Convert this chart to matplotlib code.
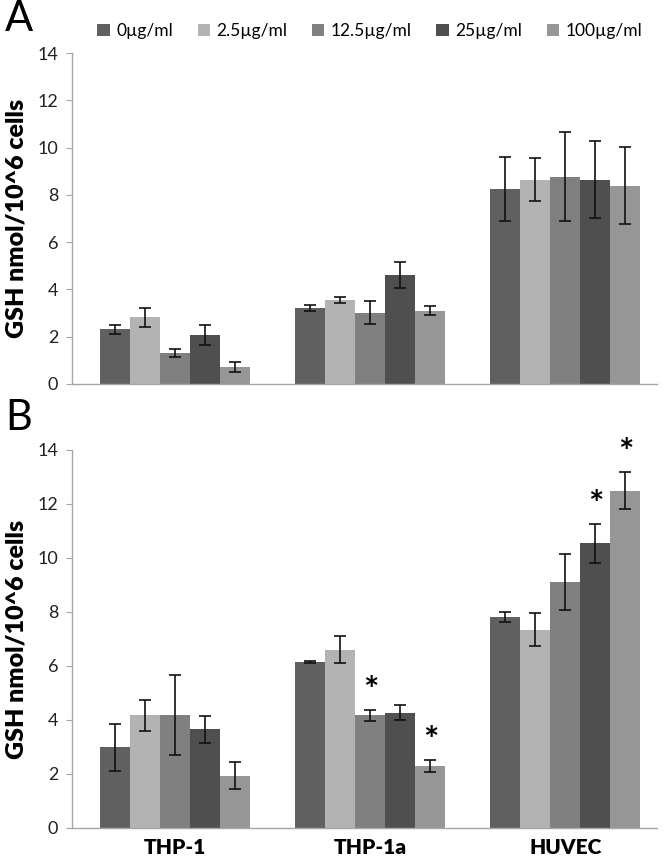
import matplotlib
matplotlib.use("Agg")
import matplotlib.pyplot as plt
import numpy as np

plt.rcParams['font.family'] = ['Lato', 'DejaVu Sans']

cells = ['THP-1', 'THP-1a', 'HUVEC']
doses = ['0µg/ml', '2.5µg/ml', '12.5µg/ml', '25µg/ml', '100µg/ml']
colors = ['#606060', '#b3b3b3', '#808080', '#4f4f4f', '#969696']

# panel A: rows = dose, cols = cell type
a_mean = [[2.31, 3.22, 8.25],
          [2.82, 3.55, 8.64],
          [1.33, 3.02, 8.77],
          [2.07, 4.61, 8.64],
          [0.72, 3.10, 8.38]]
a_err = [[0.18, 0.14, 1.37],
         [0.40, 0.14, 0.92],
         [0.17, 0.48, 1.87],
         [0.42, 0.53, 1.62],
         [0.23, 0.19, 1.63]]

# panel B
b_mean = [[2.99, 6.15, 7.81],
          [4.17, 6.61, 7.35],
          [4.17, 4.17, 9.11],
          [3.65, 4.27, 10.54],
          [1.94, 2.29, 12.49]]
b_err = [[0.87, 0.05, 0.19],
         [0.56, 0.50, 0.62],
         [1.48, 0.19, 1.05],
         [0.50, 0.28, 0.71],
         [0.49, 0.23, 0.68]]
# significant (dose index, cell index)
b_stars = [(2, 1), (4, 1), (3, 2), (4, 2)]

W, H = 664, 861
fig = plt.figure(figsize=(W / 100, H / 100), dpi=100)

left = 72 / W
width = 585 / W
axA = fig.add_axes([left, 1 - 384 / H, width, 331 / H])
axB = fig.add_axes([left, 1 - 828 / H, width, 378 / H])

bw = 0.154
x = np.arange(len(cells))


def draw(ax, mean, err):
    handles = []
    for i in range(len(doses)):
        pos = x + (i - 2) * bw
        h = ax.bar(pos, mean[i], bw, color=colors[i], label=doses[i],
                   edgecolor='none', zorder=2)
        ax.errorbar(pos, mean[i], yerr=err[i], fmt='none', ecolor='#111111',
                    elinewidth=1.2, capsize=4, capthick=1.2, zorder=3)
        handles.append(h)
    ax.set_xlim(-0.53, 2.47)
    ax.set_ylim(0, 14)
    ax.set_yticks(range(0, 15, 2))
    for s in ['top', 'right']:
        ax.spines[s].set_visible(False)
    for s in ['left', 'bottom']:
        ax.spines[s].set_color('#a6a6a6')
        ax.spines[s].set_linewidth(1.0)
    ax.tick_params(axis='y', length=4, color='#a6a6a6', labelsize=13,
                   labelcolor='#222222', pad=6)
    ax.tick_params(axis='x', length=0)
    ax.set_ylabel('GSH nmol/10^6 cells', fontsize=18, fontweight='heavy',
                  labelpad=7)
    return handles


handles = draw(axA, a_mean, a_err)
axA.set_xticks([])

draw(axB, b_mean, b_err)
axB.set_xticks(x)
axB.set_xticklabels(cells, fontsize=15, fontweight='heavy')
axB.tick_params(axis='x', pad=7)

for i, j in b_stars:
    axB.text(x[j] + (i - 2) * bw, b_mean[i][j] + b_err[i][j] + 0.7, '*',
             ha='center', va='center', fontsize=26, fontweight='bold',
             clip_on=False)

fig.legend(handles=handles, labels=doses, loc='center',
           bbox_to_anchor=(370 / W, 1 - 31 / H), ncol=5, frameon=False,
           fontsize=12.5, handlelength=0.7, handleheight=0.7,
           handletextpad=0.4, columnspacing=1.4)

fig.text(5 / W, 1 - 19 / H, 'A', fontsize=30, va='center', ha='left')
fig.text(5 / W, 1 - 418 / H, 'B', fontsize=30, va='center', ha='left')

fig.savefig('out.png', dpi=100)
